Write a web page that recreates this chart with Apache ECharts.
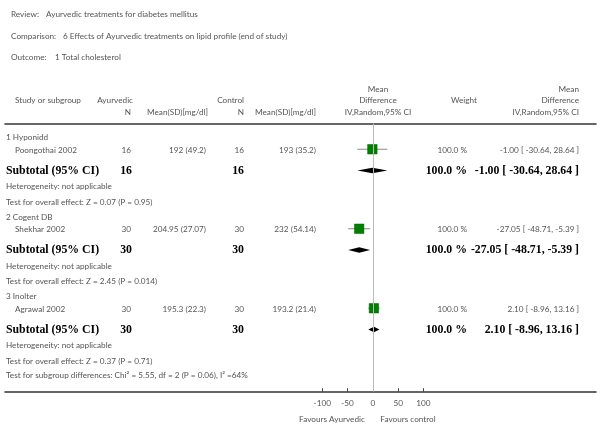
<!DOCTYPE html>
<html>
<head>
<meta charset="utf-8">
<script src="https://cdn.jsdelivr.net/npm/echarts@6.0.0/dist/echarts.min.js"></script>
<style>
html, body { margin: 0; padding: 0; background: #fff; }
#chart { width: 600px; height: 438px; }
</style>
</head>
<body>
<div id="chart"></div>
<script>
const reviewTitle = 'Ayurvedic treatments for diabetes mellitus'
const comparisonTitle = '6 Effects of Ayurvedic treatments on lipid profile (end of study)'
const outcomeTitle = '1 Total cholesterol'

const groups = ['1 Hyponidd', '2 Cogent DB', '3 Inolter']
const studies = ['Poongothai 2002', 'Shekhar 2002', 'Agrawal 2002']
const ayurvedicN = [16, 30, 30]
const ayurvedicMeanSD = ['192 (49.2)', '204.95 (27.07)', '195.3 (22.3)']
const controlN = [16, 30, 30]
const controlMeanSD = ['193 (35.2)', '232 (54.14)', '193.2 (21.4)']
const meanDiff = [-1.00, -27.05, 2.10]
const ciLow = [-30.64, -48.71, -8.96]
const ciHigh = [28.64, -5.39, 13.16]
const weights = [100.0, 100.0, 100.0]
const overallTests = ['Z = 0.07 (P = 0.95)', 'Z = 2.45 (P = 0.014)', 'Z = 0.37 (P = 0.71)']
const subgroupTest = 'Test for subgroup differences: Chi² = 5.55, df = 2 (P = 0.06), I² =64%'
const axisTicks = [-100, -50, 0, 50, 100]

// row layout inside each subgroup block (in row units)
const OFF = { label: 0, study: 0.74, subtotal: 2.08, het: 3.08, test: 4.08 }
const groupRow = i => i * 5
const studyRows = groups.map((g, i) => groupRow(i) + OFF.study)
const subtotalRows = groups.map((g, i) => groupRow(i) + OFF.subtotal)
const lastRow = groups.length * 5 - 0.05

const GREEN = '#008000'
const GREY = '#555'
const SANS = 'Lato, "Open Sans", sans-serif'
const SERIF = '"Liberation Serif", "DejaVu Serif", serif'
const FS = '8.2px '

function fmt(v) {
    return v.toFixed(2)
}
function ciText(i) {
    return fmt(meanDiff[i]) + ' [ ' + fmt(ciLow[i]) + ', ' + fmt(ciHigh[i]) + ' ]'
}

const chart = echarts.init(document.getElementById('chart'), null, { renderer: 'canvas' })

chart.setOption({
    animation: false,
    backgroundColor: '#fff',
    grid: { left: 5, right: 4, top: 123.5, height: 268.2 },
    xAxis: [{
        type: 'value',
        position: 'bottom',
        min: -727,
        max: 441,
        splitLine: { show: false },
        axisLine: { onZero: false, lineStyle: { color: '#333', width: 1.6 } },
        axisTick: { inside: true, length: 3.5, customValues: axisTicks, lineStyle: { color: '#444' } },
        axisLabel: { customValues: axisTicks, color: GREY, fontSize: 8.2, fontFamily: SANS, margin: 8 }
    }, {
        type: 'value',
        position: 'top',
        min: -727,
        max: 441,
        splitLine: { show: false },
        axisLine: { onZero: false, lineStyle: { color: '#333', width: 1.6 } },
        axisTick: { show: false },
        axisLabel: { show: false }
    }],
    yAxis: {
        type: 'value',
        inverse: true,
        min: -0.88,
        max: 15.99,
        show: false
    },
    series: [
        {
            type: 'custom',
            silent: true,
            data: studyRows.map((r, i) => [ciLow[i], ciHigh[i], r]),
            renderItem: (params, api) => {
                const a = api.coord([api.value(0), api.value(2)])
                const b = api.coord([api.value(1), api.value(2)])
                return {
                    type: 'line',
                    shape: { x1: a[0], y1: a[1], x2: b[0], y2: b[1] },
                    style: { stroke: '#8a8a8a', lineWidth: 1 }
                }
            },
            markLine: {
                silent: true,
                symbol: 'none',
                label: { show: false },
                lineStyle: { color: '#bbb', width: 1, type: 'solid' },
                data: [{ xAxis: 0 }]
            },
            z: 2
        },
        {
            type: 'scatter',
            silent: true,
            symbol: 'rect',
            symbolSize: 9.5,
            itemStyle: { color: GREEN, borderColor: '#006000', borderWidth: 0.5, opacity: 1 },
            data: studyRows.map((r, i) => [meanDiff[i], r]),
            z: 3
        },
        {
            type: 'custom',
            silent: true,
            data: subtotalRows.map((r, i) => [ciLow[i], meanDiff[i], ciHigh[i], r]),
            renderItem: (params, api) => {
                const l = api.coord([api.value(0), api.value(3)])
                const m = api.coord([api.value(1), api.value(3)])
                const h = api.coord([api.value(2), api.value(3)])
                const hh = 2.8
                return {
                    type: 'polygon',
                    shape: { points: [[l[0], l[1]], [m[0], m[1] - hh], [h[0], h[1]], [m[0], m[1] + hh]] },
                    style: { fill: '#000' }
                }
            },
            z: 3
        }
    ]
})

const yPx = r => chart.convertToPixel({ yAxisIndex: 0 }, r)

function txt(x, y, text, opts) {
    opts = opts || {}
    return {
        type: 'text',
        x: x,
        y: y,
        silent: true,
        style: {
            text: text,
            fill: opts.color || GREY,
            font: opts.font || (FS + SANS),
            align: opts.align || 'left',
            verticalAlign: 'middle'
        }
    }
}

const BOLD = 'bold 11.8px ' + SERIF
const cols = {
    name: 6, study: 15, ayuN: 131, ayuMean: 206, ctrlN: 244, ctrlMean: 316,
    md: 378, weightHead: 477, weight: 467, ci: 579
}

const g = []
// titles
g.push(txt(11, 14, 'Review:'))
g.push(txt(46, 14, reviewTitle))
g.push(txt(11, 36, 'Comparison:'))
g.push(txt(63, 36, comparisonTitle))
g.push(txt(11, 57, 'Outcome:'))
g.push(txt(55, 57, outcomeTitle))

// header
const h1 = 89, h2 = 100, h3 = 112.5
g.push(txt(cols.md, h1, 'Mean', { align: 'center' }))
g.push(txt(cols.ci, h1, 'Mean', { align: 'right' }))
g.push(txt(cols.study, h2, 'Study or subgroup'))
g.push(txt(cols.ayuN + 2, h2, 'Ayurvedic', { align: 'right' }))
g.push(txt(cols.ctrlN, h2, 'Control', { align: 'right' }))
g.push(txt(cols.md, h2, 'Difference', { align: 'center' }))
g.push(txt(cols.weightHead, h2, 'Weight', { align: 'right' }))
g.push(txt(cols.ci, h2, 'Difference', { align: 'right' }))
g.push(txt(cols.ayuN, h3, 'N', { align: 'right' }))
g.push(txt(cols.ayuMean + 2, h3, 'Mean(SD)[mg/dl]', { align: 'right' }))
g.push(txt(cols.ctrlN, h3, 'N', { align: 'right' }))
g.push(txt(cols.ctrlMean, h3, 'Mean(SD)[mg/dl]', { align: 'right' }))
g.push(txt(cols.md, h3, 'IV,Random,95% CI', { align: 'center' }))
g.push(txt(cols.ci, h3, 'IV,Random,95% CI', { align: 'right' }))

groups.forEach((name, i) => {
    const r0 = groupRow(i)
    let y = yPx(r0 + OFF.label)
    g.push(txt(cols.name, y, name))

    y = yPx(r0 + OFF.study) + 1
    g.push(txt(cols.study, y, studies[i]))
    g.push(txt(cols.ayuN, y, String(ayurvedicN[i]), { align: 'right' }))
    g.push(txt(cols.ayuMean, y, ayurvedicMeanSD[i], { align: 'right' }))
    g.push(txt(cols.ctrlN, y, String(controlN[i]), { align: 'right' }))
    g.push(txt(cols.ctrlMean, y, controlMeanSD[i], { align: 'right' }))
    g.push(txt(cols.weight, y, weights[i].toFixed(1) + ' %', { align: 'right' }))
    g.push(txt(cols.ci, y, ciText(i), { align: 'right' }))

    y = yPx(r0 + OFF.subtotal)
    g.push(txt(cols.name, y, 'Subtotal (95% CI)', { font: BOLD, color: '#000' }))
    g.push(txt(cols.ayuN + 1, y, String(ayurvedicN[i]), { font: BOLD, color: '#000', align: 'right' }))
    g.push(txt(cols.ctrlN, y, String(controlN[i]), { font: BOLD, color: '#000', align: 'right' }))
    g.push(txt(cols.weight, y, weights[i].toFixed(1) + ' %', { font: BOLD, color: '#000', align: 'right' }))
    g.push(txt(cols.ci, y, ciText(i), { font: BOLD, color: '#000', align: 'right' }))

    g.push(txt(cols.name, yPx(r0 + OFF.het), 'Heterogeneity: not applicable'))
    g.push(txt(cols.name, yPx(r0 + OFF.test), 'Test for overall effect: ' + overallTests[i]))
})
g.push(txt(cols.name, yPx(lastRow), subgroupTest))

g.push(txt(332, 419, 'Favours Ayurvedic', { align: 'center' }))
g.push(txt(408, 419, 'Favours control', { align: 'center' }))

chart.setOption({ graphic: g })
</script>
</body>
</html>
